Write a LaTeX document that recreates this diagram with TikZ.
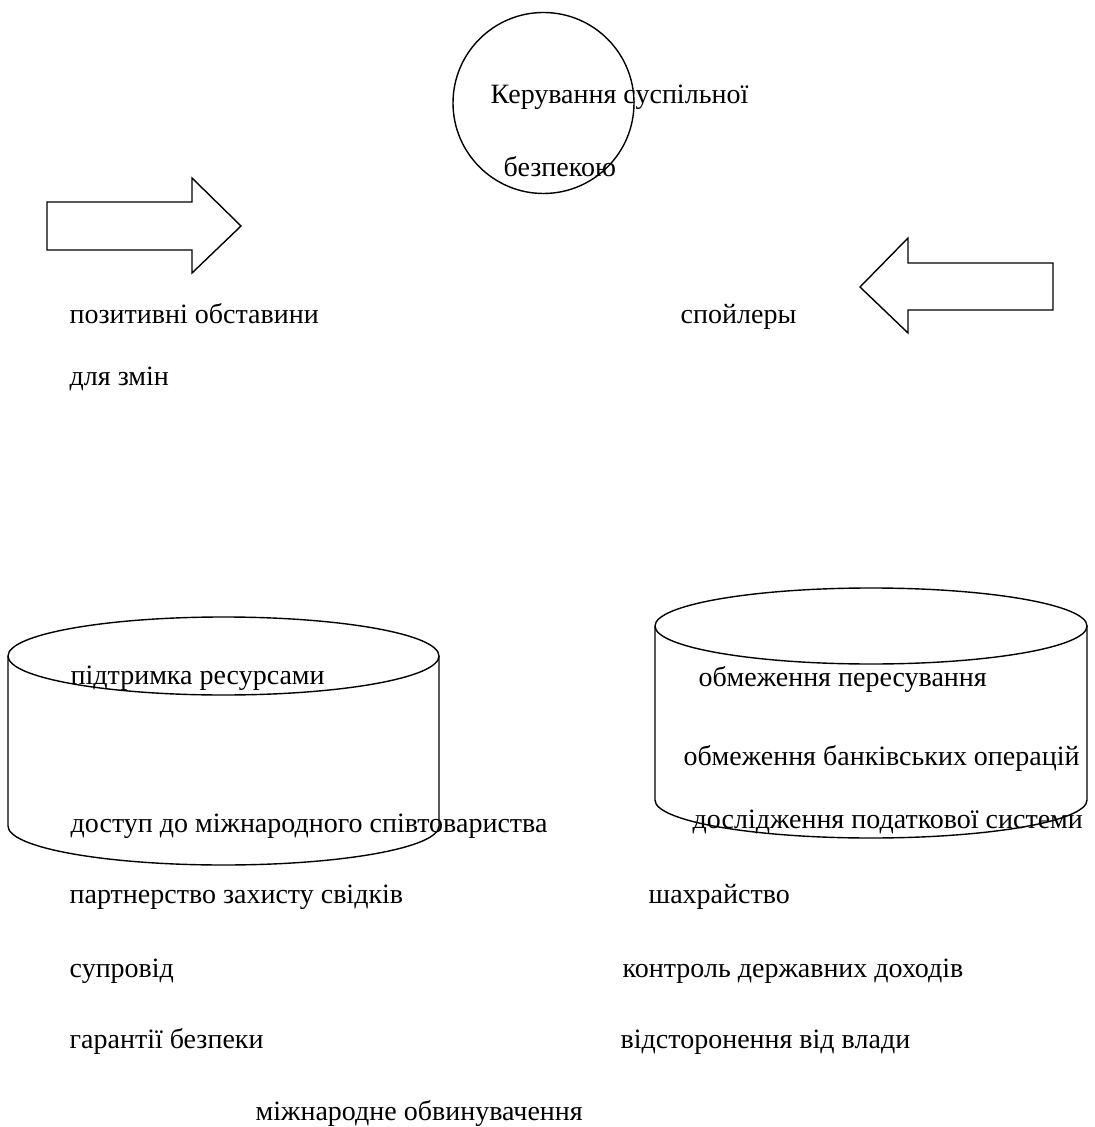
\documentclass[tikz,border=0pt]{standalone}
\usepackage{fontspec}
\setmainfont{Liberation Serif}
\usepackage{tikz}

\begin{document}
\begin{tikzpicture}[x=0.5pt, y=0.5pt, line width=0.7pt]
	\tikzstyle{every node}+=[inner sep=0pt]
	\tikzstyle{lbl}=[anchor=base west, font=\fontsize{14}{16}\selectfont]
	\useasboundingbox (0,0) rectangle (1094,-1127);
	% circle at the top
	\node [draw, black, circle, minimum size=90.5pt] (ring) at (543.5,-103) {};
	\node [lbl] (ringa) at (490,-104) {Керування суспільної};
	\node [lbl] (ringb) at (503,-177) {безпекою};
	% block arrows
	\draw [black] (47,-202) -- (192,-202) -- (192,-178) -- (241,-226) -- (192,-273) -- (192,-250) -- (47,-250) -- cycle;
	\draw [black] (860,-287) -- (908,-238) -- (908,-263) -- (1053,-263) -- (1053,-310) -- (908,-310) -- (908,-333) -- cycle;
	\node [lbl] (posa) at (69,-324) {позитивні обставини};
	\node [lbl] (posb) at (69,-386) {для змін};
	\node [lbl] (spoil) at (680,-324) {спойлеры};
	% left cylinder
	\draw [black] (223.5,-656) ellipse [x radius=215.5, y radius=39];
	\draw [black] (8,-656) -- (8,-826) arc [start angle=180, end angle=360, x radius=215.5, y radius=39] -- (439,-656);
	% right cylinder
	\draw [black] (871,-626) ellipse [x radius=216, y radius=38];
	\draw [black] (655,-626) -- (655,-800) arc [start angle=180, end angle=360, x radius=216, y radius=38] -- (1087,-626);
	\node [lbl] (supa) at (70,-684) {підтримка ресурсами};
	\node [lbl] (supb) at (70,-832) {доступ до міжнародного співтовариства};
	\node [lbl] (lima) at (698,-686) {обмеження пересування};
	\node [lbl] (limb) at (683,-765) {обмеження банківських операцій};
	\node [lbl] (limc) at (692,-828) {дослідження податкової системи};
	% lists below
	\node [lbl] (lefta) at (69,-903) {партнерство захисту свідків};
	\node [lbl] (leftb) at (69,-977) {супровід};
	\node [lbl] (leftc) at (69,-1048) {гарантії безпеки};
	\node [lbl] (righta) at (648,-903) {шахрайство};
	\node [lbl] (rightb) at (622,-977) {контроль державних доходів};
	\node [lbl] (rightc) at (620,-1048) {відсторонення від влади};
	\node [lbl] (charge) at (255,-1120) {міжнародне обвинувачення};
\end{tikzpicture}
\end{document}
